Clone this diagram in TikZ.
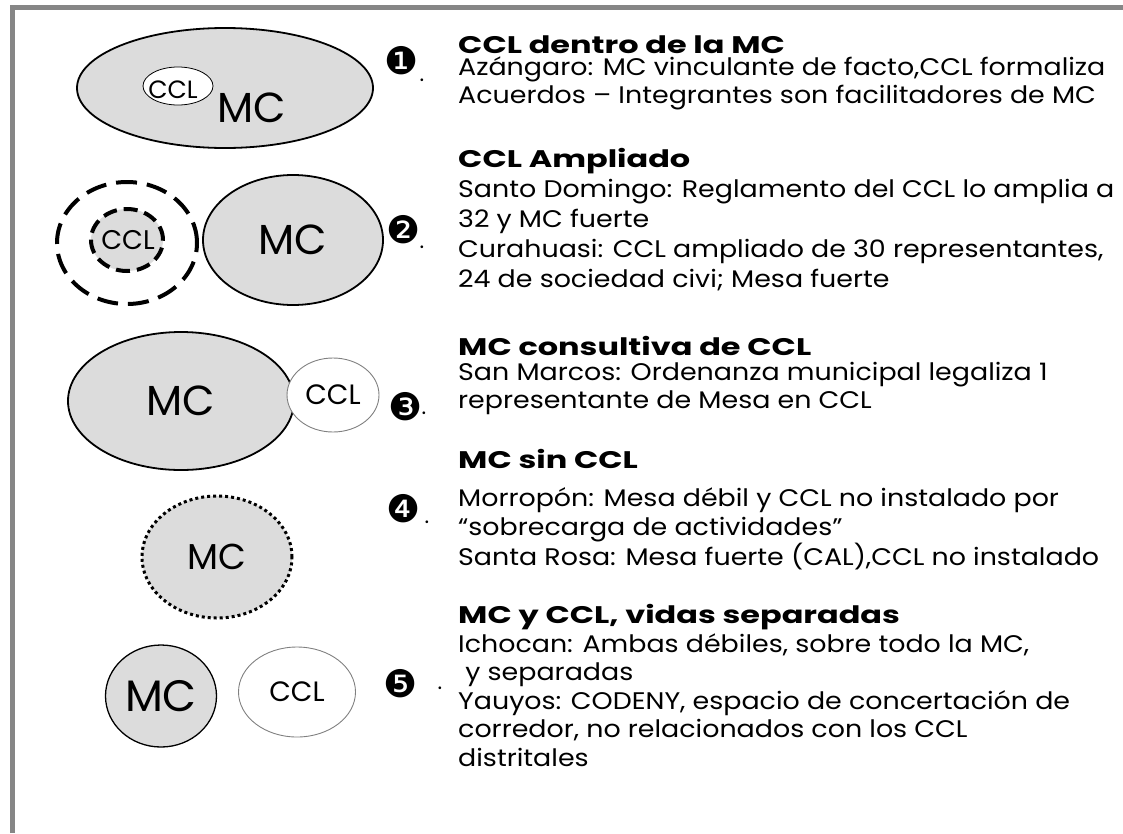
\documentclass[tikz,border=0pt]{standalone}
\usepackage{fontspec}
\setmainfont{Poppins}
\newfontfamily\widefont[FakeStretch=1.12]{Poppins}
\newfontfamily\headfont[FakeStretch=1.33]{Poppins}
\newfontfamily\dingfont{DejaVu Sans}
\usetikzlibrary{shapes.geometric}
\definecolor{blobgray}{HTML}{DCDCDC}
\definecolor{framegray}{HTML}{868686}

\begin{document}
\begin{tikzpicture}[x=1pt,y=-1pt,
        mc blob/.style={ellipse,draw,fill=blobgray,line width=1.8pt,inner sep=0pt},
        ccl blob/.style={ellipse,draw=gray,fill=white,line width=0.9pt,inner sep=0pt},
        big/.style={font=\fontsize{42}{42}\selectfont},
        mid/.style={font=\fontsize{28}{28}\selectfont},
        title/.style={anchor=base west,inner sep=0pt,font=\headfont\bfseries\fontsize{24}{26}\selectfont},
        body/.style={anchor=base west,inner sep=0pt,align=left,font=\widefont\fontsize{24}{28.5}\selectfont},
        num/.style={inner sep=0pt,font=\dingfont\fontsize{38}{38}\selectfont},
        numdot/.style={inner sep=0pt,font=\fontsize{22}{22}\selectfont}]

        \useasboundingbox (0,0) rectangle (1123,833);

        % Frame
        \draw[framegray,line width=5pt] (12,833) -- (12,7) -- (1123,7);

        % Define shapes
        \node[mc blob,minimum width=296,minimum height=120] (mc1) at (225,88) {};
        \node[ellipse,draw,fill=white,line width=0.8pt,inner sep=0pt,
              minimum width=70,minimum height=38] (ccl1) at (178,86) {};
        \node[inner sep=0pt,font=\fontsize{25}{25}\selectfont] (ccl1 label) at (173,90) {CCL};
        \node[inner sep=0pt,big] (mc1 label) at (252,108) {MC};

        \node[draw,ellipse,line width=4pt,dash pattern=on 21pt off 10pt,
              minimum width=140,minimum height=122] (ring2) at (127,243) {};
        \node[ellipse,draw,fill=blobgray,line width=4pt,dash pattern=on 14pt off 7pt,
              minimum width=72,minimum height=62] (ccl2) at (127,240) {};
        \node[inner sep=0pt,font=\fontsize{27}{27}\selectfont] (ccl2 label) at (128,240) {CCL};
        \node[mc blob,big,minimum width=180,minimum height=130] (mc2) at (293,240) {MC};

        \node[mc blob,big,minimum width=226,minimum height=138] (mc3) at (181,401) {MC};
        \node[ccl blob,mid,minimum width=92,minimum height=74] (ccl3) at (333,395) {CCL};

        \node[ellipse,fill=blobgray,draw,line width=3pt,dash pattern=on 3pt off 3pt,
              inner sep=0pt,font=\fontsize{36}{36}\selectfont,
              minimum width=150,minimum height=122] (mc4) at (217,557) {MC};

        \node[mc blob,line width=1.3pt,font=\fontsize{44}{44}\selectfont,
              minimum width=111,minimum height=102] (mc5) at (161,696) {MC};
        \node[ccl blob,mid,minimum width=117,minimum height=90] (ccl5) at (297,692) {CCL};

        % Bullets
        \node[num] (n1) at (402,61) {❶};
        \node[num] (n2) at (404,230) {❷};
        \node[num] (n3) at (406,407) {❸};
        \node[num] (n4) at (404,509) {❹};
        \node[num] (n5) at (401,684) {❺};
        \node[numdot] (d1) at (422,80) {.};
        \node[numdot] (d2) at (422,247) {.};
        \node[numdot] (d3) at (424,413) {.};
        \node[numdot] (d4) at (427,522) {.};
        \node[numdot] (d5) at (440,688) {.};

        % Texts (a body node sits on the baseline of its last line)
        \node[title] (t1) at (458,53) {CCL dentro de la MC};
        \node[body] (b1) at (458,103.5) {Azángaro: MC vinculante de facto,CCL formaliza\\
            Acuerdos – Integrantes son facilitadores de MC};
        \node[title] (t2) at (458,167) {CCL Ampliado};
        \node[body,font=\widefont\fontsize{24}{30}\selectfont] (b2) at (458,287) {Santo Domingo: Reglamento del CCL lo amplia a\\
            32 y MC fuerte\\
            Curahuasi: CCL ampliado de 30 representantes,\\
            24 de sociedad civi; Mesa fuerte};
        \node[title] (t3) at (458,355) {MC consultiva de CCL};
        \node[body] (b3) at (458,408.5) {San Marcos: Ordenanza municipal legaliza 1\\
            representante de Mesa en CCL};
        \node[title] (t4) at (458,468) {MC sin CCL};
        \node[body] (b4) at (458,565) {Morropón: Mesa débil y CCL no instalado por\\
            “sobrecarga de actividades”\\
            Santa Rosa: Mesa fuerte (CAL),CCL no instalado};
        \node[title] (t5) at (458,623) {MC y CCL, vidas separadas};
        \node[body] (b5) at (458,766) {Ichocan: Ambas débiles, sobre todo la MC,\\
            \ y separadas\\
            Yauyos: CODENY, espacio de concertación de\\
            corredor, no relacionados con los CCL\\
            distritales};

\end{tikzpicture}
\end{document}
